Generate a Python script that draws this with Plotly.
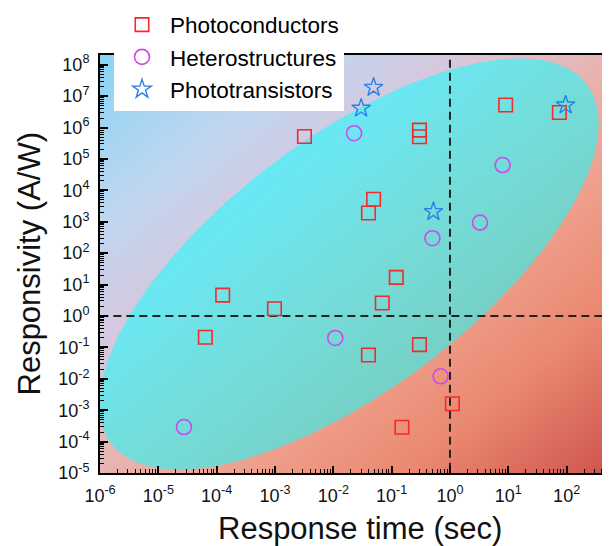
import numpy as np
import plotly.graph_objects as go

# ---------------- data ----------------
pc_time = [3.2e-3, 0.30, 0.30, 9.0, 75, 0.049, 0.040, 0.12, 0.069, 1.27e-4,
           9.8e-4, 6.4e-5, 0.040, 0.30, 1.1, 0.15]
pc_resp = [5.2e5, 8.3e5, 5.1e5, 5.2e6, 3.0e6, 5.2e3, 1.9e3, 17, 2.6, 4.6,
           1.7, 0.21, 0.057, 0.122, 1.6e-3, 2.85e-4]

hs_time = [0.0227, 8.0, 3.27, 0.50, 0.0108, 0.69, 2.75e-5]
hs_resp = [6.6e5, 6.4e4, 940, 300, 0.2, 0.012, 2.9e-4]

pt_time = [0.049, 0.030, 0.52, 96]
pt_resp = [1.9e7, 4.1e6, 2.1e3, 5.2e6]

x_exponents = list(range(-6, 3))
y_exponents = list(range(-5, 9))
x_tickvals = [10.0 ** e for e in x_exponents]
x_ticktext = ["10<sup>%d</sup>" % e for e in x_exponents]
y_tickvals = [10.0 ** e for e in y_exponents]
y_ticktext = ["10<sup>%d</sup>" % e for e in y_exponents]
x_minor = [m * 10.0 ** e for e in range(-7, 3) for m in range(2, 10)]
y_minor = [m * 10.0 ** e for e in range(-6, 9) for m in range(2, 10)]

# ---------------- layout geometry ----------------
# The page body has an 8px default margin; the figure is 8px smaller and the
# margins are shifted by 8px so the plot lands at the reference positions.
OFF = 8
W, H = 610 - OFF, 546 - OFF
PX0, PX1 = 100, 610            # plot area in page pixels
PY0, PY1 = 55, 473
L, R, T, B = PX0 - OFF, 0, PY0 - OFF, H - (PY1 - OFF)
DECADE_PX = 58.33
XMAX = -6 + (PX1 - PX0) / DECADE_PX

FONT = "Liberation Sans, Arial, Helvetica, sans-serif"

def px(p):   # page pixel -> paper x
    return (p - PX0) / (PX1 - PX0)

def py(p):   # page pixel -> paper y
    return (PY1 - p) / (PY1 - PY0)

fig = go.Figure()

# background gradient (top-left blue -> bottom-right red), on hidden pixel axes
gx = np.linspace(PX0, PX1, 31)
gy = np.linspace(PY0, PY1, 31)
gz = ((gx[None, :] - PX0) / (PX1 - PX0) + (gy[:, None] - PY0) / (PY1 - PY0)) / 2.0
bg_scale = [
    [0.00, "#8ad4f4"],
    [0.20, "#bed6f0"],
    [0.35, "#d6c8de"],
    [0.50, "#e8b4b0"],
    [0.65, "#ee9e8a"],
    [0.80, "#ea8870"],
    [1.00, "#ce544e"],
]
fig.add_trace(go.Heatmap(x=gx, y=gy, z=gz, colorscale=bg_scale, zmin=0, zmax=1,
                         zsmooth="best", showscale=False, hoverinfo="skip",
                         xaxis="x", yaxis="y"))

# cyan ellipse (page-pixel geometry)
ecx, ecy, ea, eb, ephi = 349, 264, 298, 126, np.deg2rad(37.0)
th = np.linspace(0, 2 * np.pi, 241)
ex = ecx + ea * np.cos(th) * np.cos(ephi) - eb * np.sin(th) * np.sin(ephi)
ey = ecy - (ea * np.cos(th) * np.sin(ephi) + eb * np.sin(th) * np.cos(ephi))
fig.add_trace(go.Scatter(x=ex, y=ey, mode="lines", fill="toself",
                         fillcolor="rgba(20,255,255,0.55)", line=dict(width=0),
                         hoverinfo="skip", showlegend=False, xaxis="x", yaxis="y"))

# dashed guide lines at 1 s and 1 A/W
fig.add_trace(go.Scatter(x=[1, 1], y=[1e-7, 1e10], mode="lines",
                         line=dict(color="#222222", width=2, dash="8px,5px"),
                         hoverinfo="skip", showlegend=False, xaxis="x2", yaxis="y2"))
fig.add_trace(go.Scatter(x=[1e-8, 1e5], y=[1, 1], mode="lines",
                         line=dict(color="#222222", width=2, dash="8px,5px"),
                         hoverinfo="skip", showlegend=False, xaxis="x2", yaxis="y2"))

# data series
fig.add_trace(go.Scatter(x=pc_time, y=pc_resp, mode="markers", name="Photoconductors",
                         marker=dict(symbol="square-open", size=13.5, color="#f42a2a",
                                     line=dict(width=1.6, color="#f42a2a")),
                         xaxis="x2", yaxis="y2"))
fig.add_trace(go.Scatter(x=hs_time, y=hs_resp, mode="markers", name="Heterostructures",
                         marker=dict(symbol="circle-open", size=15, color="#cf46f2",
                                     line=dict(width=1.6, color="#cf46f2")),
                         xaxis="x2", yaxis="y2"))
fig.add_trace(go.Scatter(x=pt_time, y=pt_resp, mode="markers", name="Phototransistors",
                         marker=dict(symbol="star-open", size=14, color="#2a7fe8",
                                     line=dict(width=1.4, color="#2a7fe8")),
                         xaxis="x2", yaxis="y2"))

tick_common = dict(ticks="inside", tickcolor="black", showgrid=False, zeroline=False,
                   showline=True, linecolor="black", linewidth=2,
                   tickfont=dict(size=18, color="#111111", family=FONT))

fig.update_layout(
    width=W, height=H,
    margin=dict(l=L, r=R, t=T, b=B, autoexpand=False),
    paper_bgcolor="white", plot_bgcolor="white",
    font=dict(family=FONT, color="#111111"),
    xaxis=dict(range=[PX0, PX1], visible=False, fixedrange=True),
    yaxis=dict(range=[PY1, PY0], visible=False, fixedrange=True),
    xaxis2=dict(type="log", overlaying="x", anchor="y2", range=[-6, XMAX],
                tickmode="array", tickvals=x_tickvals, ticktext=x_ticktext,
                ticklen=7, tickwidth=1.5, mirror=True, ticklabelstandoff=5,
                minor=dict(tickmode="array", tickvals=x_minor, ticks="inside",
                           ticklen=4, tickwidth=1, tickcolor="black", showgrid=False),
                **tick_common),
    yaxis2=dict(type="log", overlaying="y", anchor="x2", range=[-5, 8.31],
                tickmode="array", tickvals=y_tickvals, ticktext=y_ticktext,
                ticklen=8, tickwidth=1.5, ticklabelstandoff=5,
                minor=dict(tickmode="array", tickvals=y_minor, ticks="inside",
                           ticklen=4, tickwidth=1, tickcolor="black", showgrid=False),
                **tick_common),
    legend=dict(x=px(114), xanchor="left", y=py(3.5), yanchor="top",
                bgcolor="white", borderwidth=0, itemwidth=46,
                font=dict(size=22.5, color="black", family=FONT)),
    showlegend=True,
    annotations=[
        dict(text="Response time (sec)", xref="paper", yref="paper",
             x=px(360), y=py(528), xanchor="center", yanchor="middle", showarrow=False,
             font=dict(size=31, color="#111111", family=FONT)),
        dict(text="Responsivity (A/W)", xref="paper", yref="paper",
             x=px(29), y=py(263.5), xanchor="center", yanchor="middle",
             textangle=-90, showarrow=False,
             font=dict(size=31, color="#111111", family=FONT)),
    ],
)

fig.write_html("out.html")
